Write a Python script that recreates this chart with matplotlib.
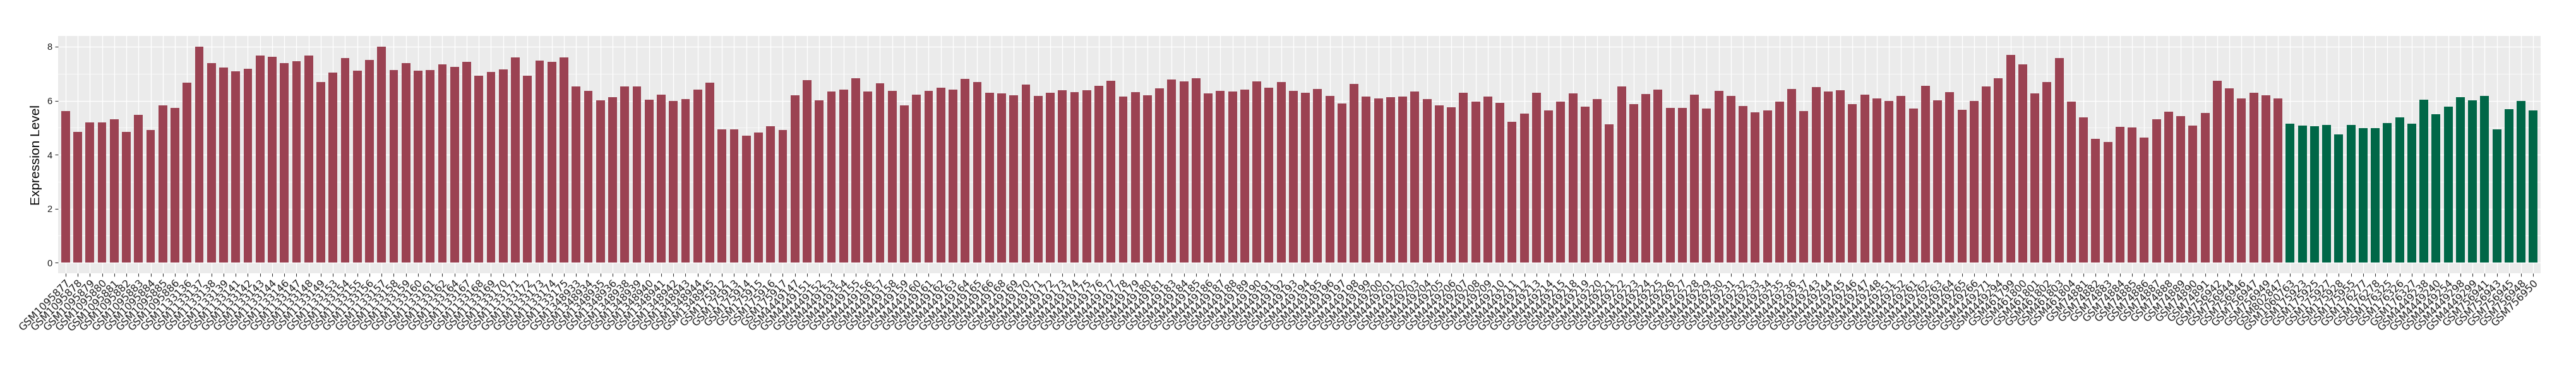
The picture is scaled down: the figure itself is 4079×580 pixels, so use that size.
import numpy as np
import matplotlib
matplotlib.use("Agg")
import matplotlib.pyplot as plt

# tumour samples (red) and normal samples (green)
tumor_samples = [
    "GSM1095877", "GSM1095878", "GSM1095879", "GSM1095880", "GSM1095881",
    "GSM1095882", "GSM1095883", "GSM1095884", "GSM1095885", "GSM1095886",
    "GSM1133136", "GSM1133137", "GSM1133138", "GSM1133139", "GSM1133141",
    "GSM1133142", "GSM1133143", "GSM1133144", "GSM1133146", "GSM1133147",
    "GSM1133148", "GSM1133149", "GSM1133153", "GSM1133154", "GSM1133155",
    "GSM1133156", "GSM1133157", "GSM1133158", "GSM1133159", "GSM1133160",
    "GSM1133161", "GSM1133162", "GSM1133164", "GSM1133167", "GSM1133168",
    "GSM1133169", "GSM1133170", "GSM1133171", "GSM1133172", "GSM1133173",
    "GSM1133174", "GSM1133175",
    "GSM1348933", "GSM1348934", "GSM1348935", "GSM1348936", "GSM1348938",
    "GSM1348939", "GSM1348940", "GSM1348941", "GSM1348942", "GSM1348943",
    "GSM1348944", "GSM1348945",
    "GSM175912", "GSM175913", "GSM175914", "GSM175915", "GSM175916", "GSM175917",
    "GSM4449147", "GSM4449151", "GSM4449152", "GSM4449153", "GSM4449154",
    "GSM4449155", "GSM4449156", "GSM4449157", "GSM4449158", "GSM4449159",
    "GSM4449160", "GSM4449161", "GSM4449162", "GSM4449163", "GSM4449164",
    "GSM4449165", "GSM4449166", "GSM4449168", "GSM4449169", "GSM4449170",
    "GSM4449171", "GSM4449172", "GSM4449173", "GSM4449174", "GSM4449175",
    "GSM4449176", "GSM4449177", "GSM4449178", "GSM4449179", "GSM4449180",
    "GSM4449181", "GSM4449183", "GSM4449184", "GSM4449185", "GSM4449186",
    "GSM4449187", "GSM4449188", "GSM4449189", "GSM4449190", "GSM4449191",
    "GSM4449192", "GSM4449193", "GSM4449194", "GSM4449195", "GSM4449196",
    "GSM4449197", "GSM4449198", "GSM4449199", "GSM4449200", "GSM4449201",
    "GSM4449202", "GSM4449203", "GSM4449204", "GSM4449205", "GSM4449206",
    "GSM4449207", "GSM4449208", "GSM4449209", "GSM4449210", "GSM4449211",
    "GSM4449212", "GSM4449213", "GSM4449214", "GSM4449215", "GSM4449218",
    "GSM4449219", "GSM4449220", "GSM4449221", "GSM4449222", "GSM4449223",
    "GSM4449224", "GSM4449225", "GSM4449226", "GSM4449227", "GSM4449228",
    "GSM4449229", "GSM4449230", "GSM4449231", "GSM4449232", "GSM4449233",
    "GSM4449234", "GSM4449235", "GSM4449236", "GSM4449237", "GSM4449243",
    "GSM4449244", "GSM4449245", "GSM4449246", "GSM4449247", "GSM4449248",
    "GSM4449251", "GSM4449252", "GSM4449261", "GSM4449262", "GSM4449263",
    "GSM4449264", "GSM4449265", "GSM4449266", "GSM4449271", "GSM4449294",
    "GSM461799", "GSM461800", "GSM461801", "GSM461802", "GSM461803", "GSM461804",
    "GSM74881", "GSM74882", "GSM74883", "GSM74884", "GSM74885", "GSM74886",
    "GSM74887", "GSM74888", "GSM74889", "GSM74890", "GSM74891",
    "GSM756942", "GSM756944", "GSM756946", "GSM756947", "GSM756949",
    "GSM802847",
]
tumor_values = [
    5.61, 4.84, 5.20, 5.20, 5.31, 4.84, 5.48, 4.91, 5.83, 5.74,
    6.67, 8.00, 7.40, 7.23, 7.09, 7.18, 7.67, 7.63, 7.40, 7.47,
    7.67, 6.70, 7.04, 7.58, 7.11, 7.51, 8.00, 7.14, 7.40, 7.11,
    7.14, 7.34, 7.25, 7.44, 6.93, 7.07, 7.16, 7.60, 6.93, 7.48,
    7.44, 7.60,
    6.53, 6.37, 6.01, 6.13, 6.53, 6.53, 6.04, 6.22, 5.99, 6.06,
    6.41, 6.67,
    4.94, 4.94, 4.71, 4.82, 5.05, 4.91,
    6.20, 6.76, 6.01, 6.34, 6.41, 6.83, 6.34, 6.64, 6.37, 5.83,
    6.22, 6.37, 6.48, 6.41, 6.81, 6.70, 6.30, 6.27, 6.20, 6.60,
    6.18, 6.30, 6.38, 6.31, 6.38, 6.55, 6.74, 6.15, 6.31, 6.20,
    6.46, 6.78, 6.71, 6.83, 6.27, 6.37, 6.34, 6.41, 6.71, 6.48,
    6.70, 6.37, 6.30, 6.44, 6.18, 5.90, 6.62, 6.15, 6.08, 6.13,
    6.15, 6.34, 6.06, 5.83, 5.75, 6.30, 5.97, 6.15, 5.92, 5.22,
    5.52, 6.30, 5.64, 5.97, 6.27, 5.78, 6.06, 5.12, 6.53, 5.87,
    6.25, 6.41, 5.74, 5.74, 6.22, 5.71, 6.37, 6.18, 5.80, 5.57,
    5.64, 5.97, 6.44, 5.61, 6.51, 6.34, 6.38, 5.87, 6.22, 6.08,
    5.99, 6.18, 5.71, 6.55, 6.01, 6.31, 5.67, 5.99, 6.53, 6.83,
    7.70, 7.34, 6.27, 6.70, 7.58, 5.97,
    5.38, 4.58, 4.47, 5.03, 5.01, 4.64, 5.31, 5.59, 5.43, 5.08, 5.55,
    6.74, 6.46, 6.08, 6.30, 6.20,
    6.08,
]

normal_samples = [
    "GSM1060763", "GSM175923", "GSM175925", "GSM175927", "GSM175928",
    "GSM175955", "GSM176277", "GSM176278", "GSM176325", "GSM176326",
    "GSM176327", "GSM4449238", "GSM4449240", "GSM4449254", "GSM4449298",
    "GSM4449299", "GSM756941", "GSM756943", "GSM756945", "GSM756948",
    "GSM756950",
]
normal_values = [
    5.15, 5.08, 5.05, 5.10, 4.75, 5.10, 4.98, 4.98, 5.17, 5.38,
    5.15, 6.04, 5.50, 5.78, 6.13, 6.01, 6.18, 4.94, 5.68, 5.99,
    5.64,
]

tumor_color = "#9B4252"
normal_color = "#006747"

samples = tumor_samples + normal_samples
values = tumor_values + normal_values
colors = [tumor_color] * len(tumor_samples) + [normal_color] * len(normal_samples)
x = np.arange(len(samples))

fig = plt.figure(figsize=(40.8, 5.8), dpi=100)
ax = fig.add_axes([0.0226, 0.253, 0.9634, 0.649])

ax.set_facecolor("#EBEBEB")
ax.bar(x, values, width=0.72, color=colors, zorder=3)

ax.set_xlim(-0.6, len(samples) - 1 + 0.6)
ax.set_ylim(-0.4, 8.4)
ax.set_yticks([0, 2, 4, 6, 8])
ax.set_yticks([1, 3, 5, 7], minor=True)
ax.set_xticks(x)
ax.set_xticklabels(samples, rotation=45, ha="right", va="top",
                   rotation_mode="anchor", fontsize=11.5, family="DejaVu Sans",
                   color="#1A1A1A")

ax.grid(which="major", color="white", linewidth=1.0, zorder=0)
ax.grid(which="minor", axis="y", color="white", linewidth=0.5, zorder=0)
ax.set_axisbelow(True)

for s in ax.spines.values():
    s.set_visible(False)

ax.tick_params(axis="both", which="major", length=3.5, width=0.8, color="#333333")
ax.tick_params(axis="y", which="minor", length=0)
ax.tick_params(axis="x", pad=2)
for lbl in ax.get_yticklabels():
    lbl.set_family("Liberation Sans")
    lbl.set_fontsize(10.5)
    lbl.set_color("#1A1A1A")

ax.set_ylabel("Expression Level", fontsize=15, family="Liberation Sans", labelpad=5)

fig.savefig("out.png", dpi=100)
